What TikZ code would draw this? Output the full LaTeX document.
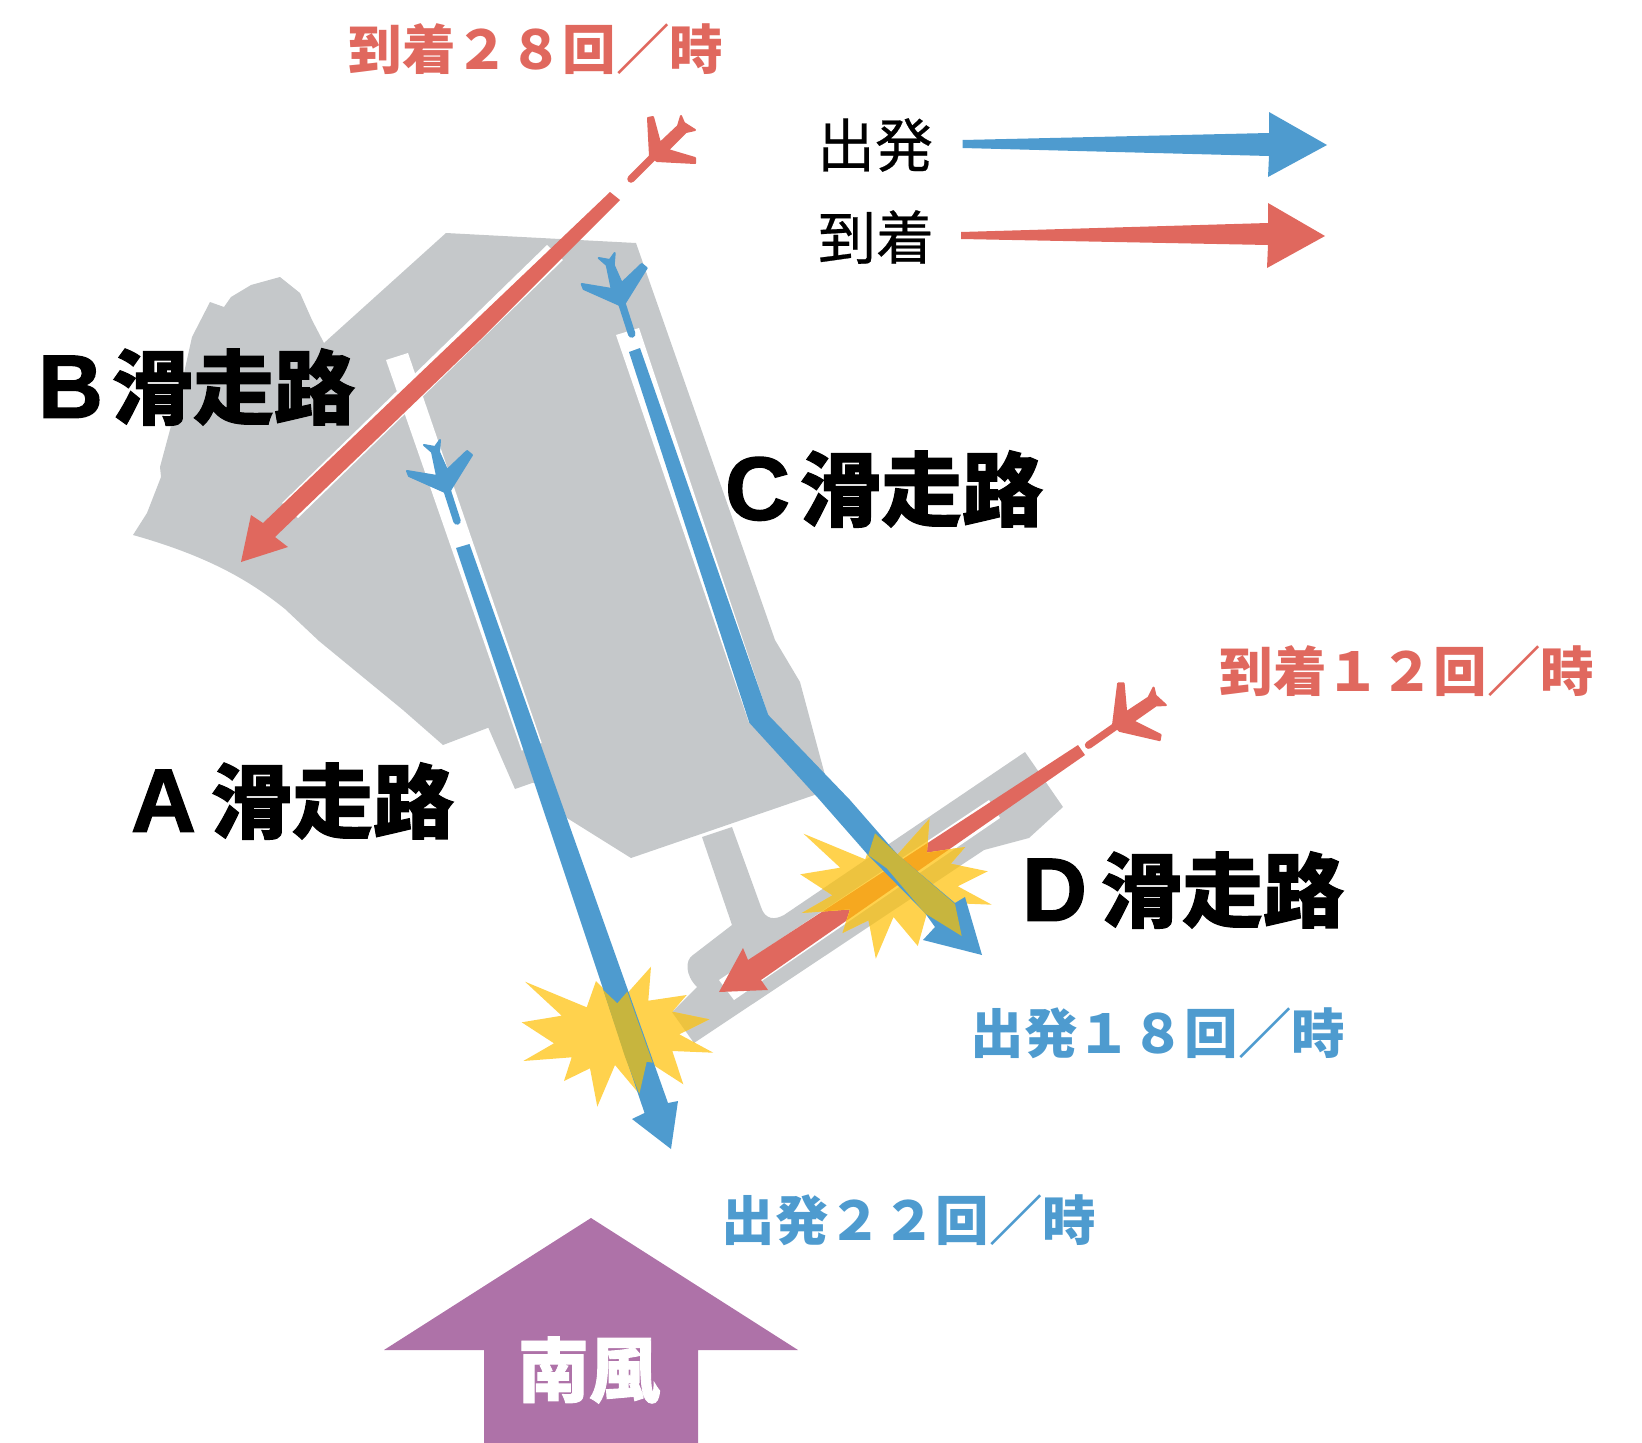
\documentclass[tikz,border=0pt]{standalone}
\usepackage{fontspec}
\newfontfamily\jp{Noto Sans CJK JP}
\newfontfamily\jpmed[FakeBold=0.4]{Noto Sans CJK JP}
\newfontfamily\jpfat[BoldFeatures={FakeBold=1.3}]{Noto Sans CJK JP}
\newfontfamily\latfat[BoldFeatures={FakeBold=1.5}]{Liberation Sans}
\definecolor{dep}{HTML}{4E9BCF}
\definecolor{arr}{HTML}{E0685E}
\definecolor{land}{HTML}{C5C8CA}
\definecolor{wind}{HTML}{AE72A8}
\definecolor{burst}{HTML}{FFD24D}
\definecolor{burstgray}{HTML}{EDC33F}
\definecolor{burstred}{HTML}{F6A81F}
\definecolor{burstblue}{HTML}{C7B53E}
\newcommand{\starpath}{(525,981.7) -- (586.7,1007.3) -- (596,981) -- (618.3,1003.3) -- (651,966.7) -- (648.3,1000.7) -- (686.7,995) -- (672.3,1011.7) -- (709.3,1019.3) -- (679.3,1034.3) -- (713.3,1052.7) -- (672.3,1051) -- (683.3,1084.3) -- (648.3,1061.7) -- (639.3,1094) -- (615,1065) -- (597.3,1106.7) -- (590,1068.3) -- (564,1081) -- (571.7,1057.3) -- (523.3,1061) -- (554,1043.3) -- (521.7,1022.3) -- (561.7,1015.7) -- cycle}
\newcommand{\dstrip}{(702,837) -- (732,827) -- (761,907) .. controls (765,920) and (775,920) .. (784,915) -- (1025,752) -- (1063,807) -- (1029,838) -- (984,850) -- (694,1043) -- (672,1012) -- (697,987) .. controls (685,975) and (685,960) .. (693,955) -- (732,925) -- cycle}
\newcommand{\dwhite}{(719,980) -- (734,1000) -- (1000,818) -- (989,800) -- cycle}
\newcommand{\dred}{(1078,745) -- (1085,755) -- (761,980) -- (768,990) -- (719,992) -- (743,948) -- (748,960) -- cycle}
\newcommand{\planeshape}{(-7,-35) -- (-2,-36) -- (5,-10) -- (23,-27) -- (26,-37) -- (29,-30) -- (40,-23) -- (31,-21) -- (13,-3) -- (40,5) -- (40,10) -- (2,8) -- (-5,3) -- cycle}
\newcommand{\blueshape}{(-23,-37) -- (-12,-35) -- (-7,-42) -- (-8,-30) -- (0,-12) -- (20,-31) -- (25,-27) -- (7,2) -- (2,10) -- (-2,10) -- (-38,-6) -- (-40,-11) -- (-10,-6) -- (-15,-30) -- cycle}
\tikzset{
  txt/.style={inner sep=0pt,outer sep=0pt,anchor=center},
  runway/.style={inner sep=0pt,outer sep=0pt,anchor=east,text=black,font=\fontsize{81}{81}\selectfont\jpfat\bfseries},
  redlbl/.style={txt,text=arr,font=\fontsize{53.5}{53.5}\selectfont\jp\bfseries},
  bluelbl/.style={txt,text=dep,font=\fontsize{53.5}{53.5}\selectfont\jp\bfseries},
  legendlbl/.style={txt,text=black,font=\fontsize{58}{58}\selectfont\jpmed},
  plane/.style={draw=#1,fill=#1,line width=2pt,line join=round},
  nose/.style={draw=#1,line width=7.5pt,line cap=round},
}
\newcommand{\plane}[4]{% x,y, rotate/scale options, colour
  \begin{scope}[shift={(#1,#2)},#3]
    \path[plane=#4] \planeshape;
    \path[nose=#4] (-24,26) -- (-3,5);
  \end{scope}}
\newcommand{\bplane}[2]{% x,y
  \begin{scope}[shift={(#1,#2)}]
    \path[plane=dep] \blueshape;
    \path[nose=dep] (0,8) -- (10,39);
  \end{scope}}
\newcommand{\rwlabel}[2]{\makebox[#2pt][l]{\fontsize{90}{90}\selectfont\latfat\bfseries #1}滑走路}
\begin{document}
\begin{tikzpicture}[x=1pt,y=-1pt]
\useasboundingbox (0,0) rectangle (1642,1443);
% land
\fill[land] (446,233) -- (636,243) -- (775,640) -- (800,682) -- (829,790) -- (631,858) -- (567,818) -- (552,790) -- (533,782.7) -- (515,789) -- (488.3,727.7) -- (443,745) -- (403,710) -- (319,641) -- (285,609) .. controls (255,585) and (215,558) .. (133,535) -- (147,513) -- (161,477) -- (160,467) -- (178,400) -- (192,337) -- (210,302) -- (224,307) -- (231,297) -- (251,285) -- (280,277) -- (300,293) -- (312,320) -- (324,343) -- cycle;
\fill[land] \dstrip;
% runway markings
\fill[white] (547,245) -- (563,260) -- (298,518) -- (282,503) -- cycle;
\fill[white] (386,360) -- (408,353) -- (541.7,743) -- (521.7,750.7) -- cycle;
\fill[white] (616,335) -- (639,328) -- (768,715) -- (749,722.7) -- cycle;
\fill[white] \dwhite;
% arrival arrows
\fill[arr] (610,192) -- (620,200) -- (480,340) -- (275,537) -- (288,547) -- (241,562) -- (251,515) -- (263,523) -- cycle;
\fill[arr] \dred;
% bursts
\begin{scope}
  \clip[shift={(278.5,-148)}] \starpath;
  \fill[burst] (700,700) rectangle (1100,1100);
  \fill[burstgray] \dstrip;
  \fill[burst] \dwhite;
  \fill[burstred] \dred;
\end{scope}
\begin{scope}
  \clip \starpath;
  \fill[burst] (450,900) rectangle (800,1150);
  \fill[burstgray] \dstrip;
\end{scope}
% departure arrows
\fill[dep] (456,548) -- (469.5,544) -- (668,1103) -- (678,1101) -- (671,1149) -- (632,1119) -- (644.5,1113) -- cycle;
\fill[dep] (629,352) -- (640,348) -- (768.3,715) -- (850,800) -- (898,855) -- (955,903) -- (965,897) -- (982,955) -- (923,940) -- (935,927) -- (925,913) -- (868,855) -- (818,798) -- (749.3,722.7) -- cycle;
% overlaps of the departure arrows with the bursts
\fill[burstblue] (875,833.3) -- (898.3,855) -- (955,904) -- (961.7,936) -- (925,913.3) -- (886.7,868.3) -- (868.3,855) -- cycle;
\fill[burstblue] (603.3,990) -- (617.3,1003.3) -- (627.3,991.7) -- (652.7,1062.7) -- (646.7,1061.7) -- (639.3,1094) -- (625,1056.7) -- cycle;
% planes
\plane{655}{153}{}{arr}
\plane{1119}{722}{rotate=-10,scale=1.08}{arr}
\bplane{621.7}{295}
\bplane{447}{482}
% legend
\fill[dep] (962.5,140) -- (1269,133) -- (1269,112) -- (1327,145) -- (1268,177) -- (1269,156) -- (962.5,148) -- cycle;
\fill[arr] (961,232) -- (1268,223) -- (1268,203) -- (1325,236) -- (1267,268) -- (1268,245) -- (961,239) -- cycle;
\node[legendlbl] (legdep) at (875,145) {出発};
\node[legendlbl] (legarr) at (876,237) {到着};
% wind
\fill[wind] (591,1218) -- (798,1350) -- (698,1350) -- (698,1443) -- (484,1443) -- (484,1350) -- (384,1350) -- cycle;
\node[txt,text=white,font=\fontsize{71}{71}\selectfont\jpfat\bfseries] (windlbl) at (589,1370) {南風};
% labels
\node[redlbl] (arr28) at (536,49) {到着２８回／時};
\node[redlbl] (arr12) at (1407,671) {到着１２回／時};
\node[bluelbl] (dep18) at (1158,1033) {出発１８回／時};
\node[bluelbl] (dep22) at (909,1220) {出発２２回／時};
\node[runway] (rwb) at (355,387) {\rwlabel{B}{74}};
\node[runway] (rwc) at (1043,489) {\rwlabel{C}{75}};
\node[runway] (rwa) at (454,801) {\rwlabel{A}{80}};
\node[runway] (rwd) at (1344,890) {\rwlabel{D}{79}};
\end{tikzpicture}
\end{document}
